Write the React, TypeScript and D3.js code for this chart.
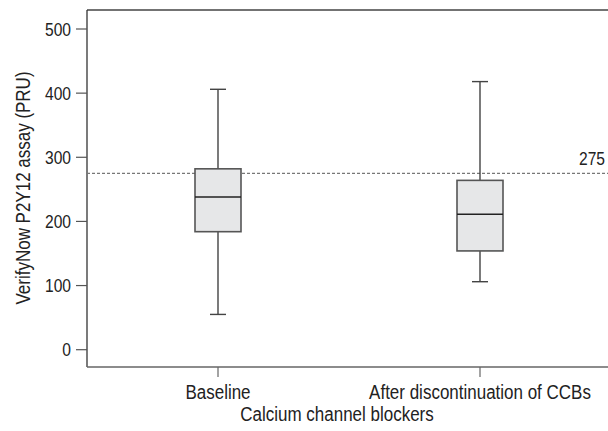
import React from "react";
import * as d3 from "d3";

const categories = ["Baseline", "After discontinuation of CCBs"];
const whiskerLow = [55, 106];
const q1 = [184, 154];
const median = [238, 211];
const q3 = [282, 264];
const whiskerHigh = [406, 418];
const yTicks = [0, 100, 200, 300, 400, 500];
const cutoff = 275;

const W = 608;
const H = 431;
const left = 87;
const top = 10;
const bottom = 367;
const font = "'Liberation Sans', Arial, sans-serif";

function T(props: {
  x: number;
  y: number;
  size: number;
  anchor?: string;
  rotate?: number;
  sy?: number;
  children: React.ReactNode;
}) {
  const { x, y, size, anchor = "middle", rotate = 0, sy = 1.15, children } = props;
  return (
    <text
      transform={`translate(${x},${y}) rotate(${rotate}) scale(1,${sy})`}
      textAnchor={anchor}
      fontFamily={font}
      fontSize={size}
      fill="#222"
    >
      {children}
    </text>
  );
}

export default function App() {
  const y = d3.scaleLinear().domain([0, 500]).range([349.7, 29]);
  const x = d3.scalePoint<string>().domain(categories).range([left, 611]).padding(0.5);
  const boxW = 46;
  const capW = 16;
  return (
    <svg width={W} height={H} style={{ position: "absolute", left: 0, top: 0 }}>
      <rect x={0} y={0} width={W} height={H} fill="#fff" />
      <line x1={left} x2={W} y1={top} y2={top} stroke="#444" strokeWidth={1.3} />
      <line x1={left} x2={left} y1={top} y2={bottom} stroke="#333" strokeWidth={1.3} />
      <line x1={left} x2={W} y1={bottom} y2={bottom} stroke="#666" strokeWidth={1.3} />
      {yTicks.map((t) => (
        <g key={t}>
          <line x1={left - 11} x2={left} y1={y(t)} y2={y(t)} stroke="#555" strokeWidth={1.2} />
          <T x={71} y={y(t) + 6.5} size={15.6} anchor="end">
            {t}
          </T>
        </g>
      ))}
      <line
        x1={left}
        x2={W}
        y1={y(cutoff)}
        y2={y(cutoff)}
        stroke="#777"
        strokeWidth={1.2}
        strokeDasharray="3,2"
      />
      <T x={605} y={y(cutoff) - 8} size={15.6} anchor="end">
        {cutoff}
      </T>
      {categories.map((c, i) => {
        const cx = x(c) as number;
        return (
          <g key={c}>
            <line x1={cx} x2={cx} y1={y(whiskerHigh[i])} y2={y(q3[i])} stroke="#333" strokeWidth={1.3} />
            <line x1={cx} x2={cx} y1={y(q1[i])} y2={y(whiskerLow[i])} stroke="#333" strokeWidth={1.3} />
            <line x1={cx - capW / 2} x2={cx + capW / 2} y1={y(whiskerHigh[i])} y2={y(whiskerHigh[i])} stroke="#444" strokeWidth={1.4} />
            <line x1={cx - capW / 2} x2={cx + capW / 2} y1={y(whiskerLow[i])} y2={y(whiskerLow[i])} stroke="#444" strokeWidth={1.4} />
            <rect
              x={cx - boxW / 2}
              y={y(q3[i])}
              width={boxW}
              height={y(q1[i]) - y(q3[i])}
              fill="#e6e7e8"
              stroke="#555"
              strokeWidth={1.6}
            />
            <line x1={cx - boxW / 2} x2={cx + boxW / 2} y1={y(median[i])} y2={y(median[i])} stroke="#222" strokeWidth={1.5} />
            <line x1={cx} x2={cx} y1={bottom} y2={bottom + 10} stroke="#666" strokeWidth={1.2} />
            <T x={cx} y={399} size={17}>
              {c}
            </T>
          </g>
        );
      })}
      <T x={337} y={421} size={17}>
        Calcium channel blockers
      </T>
      <T x={30} y={188} size={17} rotate={-90}>
        VerifyNow P2Y12 assay (PRU)
      </T>
    </svg>
  );
}
